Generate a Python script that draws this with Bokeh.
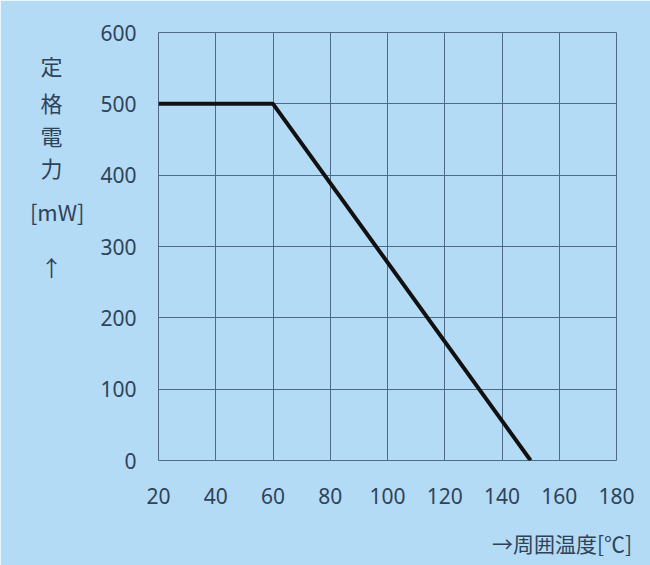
from bokeh.plotting import figure
from bokeh.models import Range1d, FixedTicker, LinearAxis
from bokeh.embed import file_html
from bokeh.resources import INLINE

# Data
temp_c = [20, 60, 150]
power_mw = [500, 500, 0]
x_ticks = [20, 40, 60, 80, 100, 120, 140, 160, 180]
y_ticks = [0, 100, 200, 300, 400, 500, 600]
y_label_parts = ["定", "格", "電", "力", "[mW]", "↑"]
x_label = "→周囲温度[℃]"

BG = "#b4dbf6"
GRID = "#4d6b88"
TXT = "#2e4358"
NUM_FONT = "Noto Sans"
CJK_FONT = "Noto Sans CJK JP"

W, H = 650, 565
L, R, T, B = 158, 34, 32, 105

p = figure(width=W, height=H, output_backend="svg", toolbar_location=None,
           x_range=Range1d(20, 180), y_range=Range1d(0, 600),
           min_border_left=L, min_border_right=R, min_border_top=T, min_border_bottom=B)
p.background_fill_color = BG
p.border_fill_color = BG
p.outline_line_color = GRID
p.outline_line_width = 1


def plain(ax):
    ax.axis_line_color = None
    ax.major_tick_line_color = None
    ax.minor_tick_line_color = None
    ax.major_label_text_color = TXT


xa = p.below[0]
ya = p.left[0]
for ax in (xa, ya):
    plain(ax)
    ax.major_label_text_font = NUM_FONT
    ax.major_label_text_font_size = "21px"
xa.ticker = FixedTicker(ticks=x_ticks)
ya.ticker = FixedTicker(ticks=y_ticks)
xa.major_label_standoff = 21
ya.major_label_standoff = 16

p.xgrid.ticker = FixedTicker(ticks=x_ticks)
p.ygrid.ticker = FixedTicker(ticks=y_ticks)
for g in (p.xgrid, p.ygrid):
    g.grid_line_color = GRID
    g.grid_line_width = 1

p.line(temp_c, power_mw, line_color="#111111", line_width=4)

# Vertical (stacked) y-axis title, as an extra axis with overridden labels
fh = H - T - B
label_py = [65, 102, 134, 167, 210, 266]          # pixel rows of each part
label_y = [round((T + fh - py) * 600 / fh) for py in label_py]
pad = "\u3000"
overrides = {}
for yv, txt in zip(label_y, y_label_parts):
    overrides[yv] = txt if txt == "[mW]" else txt + pad
ax2 = LinearAxis(ticker=FixedTicker(ticks=label_y), major_label_overrides=overrides)
plain(ax2)
ax2.major_label_text_font = CJK_FONT
ax2.major_label_text_font_size = "22px"
ax2.major_label_standoff = 7
p.add_layout(ax2, "left")

# x-axis title, right-aligned under the plot, as an extra axis below
x_label_at = 161
ax3 = LinearAxis(ticker=FixedTicker(ticks=[x_label_at]),
                 major_label_overrides={x_label_at: x_label})
plain(ax3)
ax3.major_label_text_font = CJK_FONT
ax3.major_label_text_font_size = "21px"
ax3.major_label_standoff = 15
p.add_layout(ax3, "below")

open("out.html", "w").write(file_html(p, INLINE))
